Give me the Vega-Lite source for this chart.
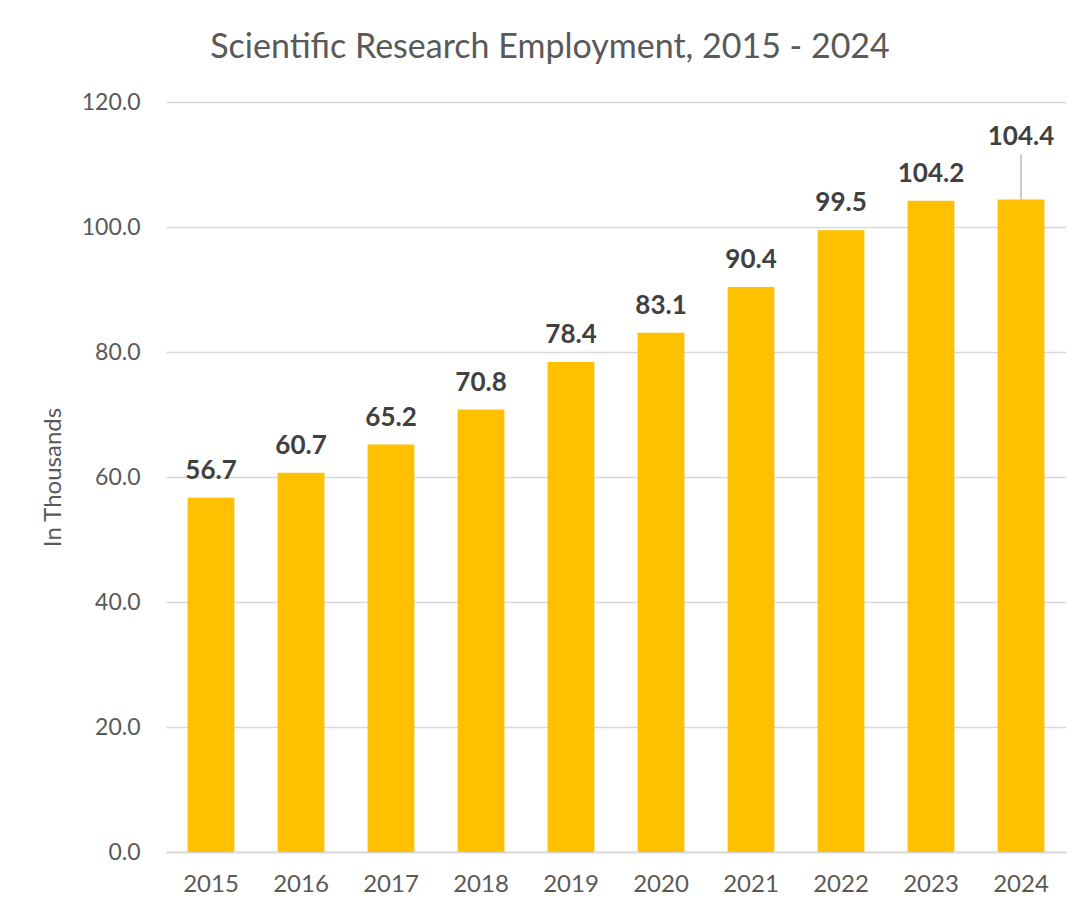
{
  "$schema": "https://vega.github.io/schema/vega-lite/v6.json",
  "width": 900,
  "height": 750,
  "autosize": {"type": "none"},
  "padding": {"left": 166, "top": 102, "right": 18, "bottom": 62},
  "background": "white",
  "config": {
    "font": "Lato",
    "view": {"stroke": null}
  },
  "title": {
    "text": "Scientific Research Employment, 2015 - 2024",
    "font": "Lato",
    "fontSize": 34,
    "fontWeight": "normal",
    "color": "#595959",
    "anchor": "middle",
    "frame": "group",
    "dx": -66,
    "offset": 26
  },
  "data": {
    "values": [
      {"year": "2015", "value": 56.7},
      {"year": "2016", "value": 60.7},
      {"year": "2017", "value": 65.2},
      {"year": "2018", "value": 70.8},
      {"year": "2019", "value": 78.4},
      {"year": "2020", "value": 83.1},
      {"year": "2021", "value": 90.4},
      {"year": "2022", "value": 99.5},
      {"year": "2023", "value": 104.2},
      {"year": "2024", "value": 104.4}
    ]
  },
  "encoding": {
    "x": {
      "field": "year",
      "type": "nominal",
      "sort": null,
      "scale": {"paddingInner": 0.48, "paddingOuter": 0.24},
      "axis": {
        "title": null,
        "labelAngle": 0,
        "labelFont": "Lato",
        "labelFontSize": 24,
        "labelColor": "#595959",
        "labelPadding": 20,
        "ticks": false,
        "domain": true,
        "domainColor": "#D9D9D9",
        "domainWidth": 2,
        "grid": false
      }
    },
    "y": {
      "field": "value",
      "type": "quantitative",
      "scale": {"domain": [0, 120], "nice": false},
      "axis": {
        "title": "In Thousands",
        "titleFont": "Lato",
        "titleFontSize": 24,
        "titleFontWeight": "normal",
        "titleColor": "#595959",
        "titlePadding": 16,
        "values": [0, 20, 40, 60, 80, 100, 120],
        "format": ".1f",
        "labelFont": "Lato",
        "labelFontSize": 23,
        "labelColor": "#595959",
        "labelPadding": 26,
        "ticks": false,
        "domain": false,
        "grid": true,
        "gridColor": "#D9D9D9",
        "gridWidth": 1.5
      }
    }
  },
  "layer": [
    {
      "mark": {"type": "bar", "color": "#FFC000"}
    },
    {
      "transform": [{"filter": "datum.year !== '2024'"}],
      "mark": {
        "type": "text",
        "font": "Lato",
        "fontSize": 26,
        "fontWeight": "bold",
        "color": "#404040",
        "baseline": "alphabetic",
        "dy": -19
      },
      "encoding": {
        "text": {"field": "value", "type": "quantitative", "format": ".1f"}
      }
    },
    {
      "transform": [{"filter": "datum.year === '2024'"}],
      "mark": {
        "type": "text",
        "font": "Lato",
        "fontSize": 26,
        "fontWeight": "bold",
        "color": "#404040",
        "baseline": "alphabetic",
        "dy": -55
      },
      "encoding": {
        "text": {"field": "value", "type": "quantitative", "format": ".1f"}
      }
    },
    {
      "transform": [{"filter": "datum.year === '2024'"}],
      "mark": {"type": "rule", "color": "#A6A6A6", "strokeWidth": 1.2, "y2Offset": -45},
      "encoding": {
        "y2": {"field": "value"}
      }
    }
  ]
}
